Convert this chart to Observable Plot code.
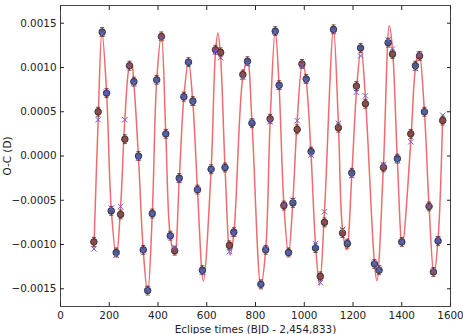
<!DOCTYPE html>
<html>
<head>
<meta charset="utf-8">
<script src="https://cdn.jsdelivr.net/npm/d3@7"></script>
<script src="https://cdn.jsdelivr.net/npm/@observablehq/plot@0.6"></script>
<style>
  html, body { margin: 0; padding: 0; background: #fff; }
  #chart svg { display: block; }
</style>
</head>
<body>
<div id="chart"></div>
<script>
// Eclipse times (days, BJD - 2,454,833) and measured O-C (days)
const eclipseTimes = [
  137, 154.5, 171, 189, 208, 228.5, 246.6, 264, 283, 301, 320, 339.5, 357.6, 376.5, 394.6,
  414, 432, 450.5, 468.5, 487, 506, 525, 543, 562, 582, 618, 636, 657, 675, 693, 711,
  748, 767, 785.5, 822, 842, 860, 881, 897, 916.5, 935.5, 953.5, 971, 990.5, 1008, 1028,
  1046, 1066, 1083, 1120, 1140, 1157, 1177, 1195, 1214, 1231, 1251, 1288, 1307, 1325,
  1344, 1362, 1382, 1400, 1437, 1456, 1473, 1493, 1512, 1530, 1549, 1568
];
const observedOC = [
  -0.00097, 0.00050, 0.00140, 0.00071, -0.00062, -0.00109, -0.00066, 0.00019, 0.00102, 0.00084,
  0.00000, -0.00106, -0.00152, -0.00065, 0.00086, 0.00135, 0.00025, -0.00090, -0.00107, -0.00025,
  0.00067, 0.00106, 0.00062, -0.00038, -0.00129, -0.00015, 0.00120, 0.00117, -0.00013, -0.00101,
  -0.00086, 0.00092, 0.00107, 0.00037, -0.00145, -0.00106, 0.00042, 0.00141, 0.00080, -0.00056,
  -0.00109, -0.00053, 0.00030, 0.00104, 0.00087, 0.00005, -0.00104, -0.00136, -0.00075, 0.00143,
  0.00032, -0.00087, -0.00099, -0.00019, 0.00079, 0.00122, 0.00059, -0.00122, -0.00129, -0.00013,
  0.00128, 0.00115, -0.00003, -0.00097, 0.00025, 0.00102, 0.00113, 0.00050, -0.00057, -0.00131,
  -0.00096, 0.00040
];
// Model O-C evaluated at each eclipse time
const modelOC = [
  -0.00105, 0.00041, 0.00138, 0.00072, -0.00059, -0.00112, -0.00057, 0.00041, 0.00101, 0.00082,
  -0.00002, -0.00107, -0.00150, -0.00066, 0.00085, 0.00133, 0.00025, -0.00091, -0.00103, -0.00027,
  0.00066, 0.00106, 0.00060, -0.00038, -0.00131, -0.00015, 0.00118, 0.00111, -0.00013, -0.00108,
  -0.00088, 0.00089, 0.00104, 0.00039, -0.00145, -0.00105, 0.00039, 0.00140, 0.00078, -0.00055,
  -0.00110, -0.00050, 0.00040, 0.00102, 0.00085, 0.00001, -0.00099, -0.00143, -0.00063, 0.00141,
  0.00037, -0.00083, -0.00098, -0.00022, 0.00072, 0.00113, 0.00068, -0.00121, -0.00128, -0.00010,
  0.00131, 0.00121, -0.00005, -0.00097, 0.00016, 0.00099, 0.00115, 0.00050, -0.00057, -0.00130,
  -0.00094, 0.00046
];
// Eclipse group of each timing (1 or 2)
const eclipseGroup = [
  1, 1, 2, 2, 2, 2, 1, 1, 1, 2, 2, 2, 2, 2, 2, 1, 2, 2, 1, 2, 2, 2, 2, 2, 2, 2, 1, 1, 2, 1,
  2, 1, 2, 2, 2, 2, 1, 2, 2, 1, 2, 2, 1, 1, 2, 2, 2, 1, 1, 2, 1, 1, 2, 2, 1, 2, 1, 2, 2, 1,
  2, 1, 2, 2, 1, 2, 1, 2, 1, 1, 2, 1
];
const ocError = 0.00005;

// Best-fit light-travel-time curve, sampled along time
const curveT = [
  137, 154.5, 170, 189, 208, 229, 246.6, 264, 283, 292, 301, 320, 339.5, 357.6, 376.5, 394.6,
  414, 432, 450.5, 468.5, 487, 506, 525, 543, 562, 586, 618, 636, 646, 657, 675, 696, 711,
  748, 767, 785.5, 822, 842, 860, 881, 897, 916.5, 935.5, 953.5, 971, 993, 1008, 1028, 1046,
  1063, 1083, 1120, 1140, 1157, 1174, 1195, 1214, 1233, 1251, 1288, 1298, 1325, 1349, 1362,
  1382, 1402, 1437, 1456, 1471, 1493, 1512, 1532, 1549, 1568
];
const curveOC = [
  -0.00105, 0.00041, 0.00141, 0.00072, -0.00059, -0.00114, -0.00057, 0.00041, 0.00101, 0.00104,
  0.00082, -0.00002, -0.00107, -0.00155, -0.00066, 0.00085, 0.00136, 0.00025, -0.00091, -0.00111,
  -0.00027, 0.00066, 0.00107, 0.00060, -0.00038, -0.00141, -0.00015, 0.00118, 0.00139, 0.00111,
  -0.00013, -0.00112, -0.00088, 0.00089, 0.00108, 0.00039, -0.00147, -0.00105, 0.00039, 0.00142,
  0.00078, -0.00055, -0.00111, -0.00050, 0.00040, 0.00107, 0.00085, 0.00001, -0.00099, -0.00146,
  -0.00063, 0.00143, 0.00037, -0.00083, -0.00106, -0.00022, 0.00072, 0.00122, 0.00066, -0.00121,
  -0.00141, -0.00010, 0.00147, 0.00121, -0.00005, -0.00101, 0.00016, 0.00099, 0.00118, 0.00050,
  -0.00057, -0.00134, -0.00094, 0.00046
];

const xTicks = [0, 200, 400, 600, 800, 1000, 1200, 1400, 1600];
const yTicks = [-0.0015, -0.0010, -0.0005, 0.0000, 0.0005, 0.0010, 0.0015];

const timings = eclipseTimes.map((t, i) => ({
  t, oc: observedOC[i], model: modelOC[i], group: eclipseGroup[i]
}));
const curve = curveT.map((t, i) => ({t, oc: curveOC[i]}));

// Short horizontal stroke used as an error-bar cap
const capSymbol = {
  draw(context, size) {
    const r = Math.sqrt(size) / 2;
    context.moveTo(-r, 0);
    context.lineTo(r, 0);
  }
};

const fmtY = d3.format(".4f");
const font = "DejaVu Sans, sans-serif";

const chart = Plot.plot({
  width: 463,
  height: 334,
  marginLeft: 60,
  marginRight: 13,
  marginTop: 5,
  marginBottom: 28,
  style: {fontFamily: font, fontSize: "10.4px", color: "#222", background: "#fff"},
  x: {domain: [0, 1600]},
  y: {domain: [-0.0017, 0.0017]},
  color: {domain: [1, 2], range: ["#8e4a4a", "#4c5b8c"]},
  marks: [
    Plot.line(curve, {x: "t", y: "oc", curve: "catmull-rom", stroke: "#e8474a", strokeWidth: 1.5, strokeOpacity: 0.8}),
    Plot.ruleX(timings, {x: "t", y1: d => d.oc - ocError, y2: d => d.oc + ocError, stroke: "#7a3232", strokeWidth: 0.9}),
    Plot.dot(timings, {x: "t", y: d => d.oc - ocError, symbol: capSymbol, r: 2.3, stroke: "#7a3232", strokeWidth: 0.9}),
    Plot.dot(timings, {x: "t", y: d => d.oc + ocError, symbol: capSymbol, r: 2.3, stroke: "#7a3232", strokeWidth: 0.9}),
    Plot.dot(timings, {x: "t", y: "oc", r: 3.3, fill: "group", stroke: "#222", strokeWidth: 0.8}),
    Plot.dot(timings, {x: "t", y: "model", symbol: "times", r: 2.6, stroke: "#6b62d6", strokeWidth: 1}),
    Plot.frame({stroke: "#444", strokeWidth: 1}),
    Plot.axisX({anchor: "bottom", ticks: xTicks, tickSize: -4, tickPadding: 9, tickFormat: d3.format("d"),
      label: "Eclipse times (BJD - 2,454,833)", labelAnchor: "center", labelOffset: 26, labelArrow: "none", fontSize: 10.4}),
    Plot.axisX({anchor: "top", ticks: xTicks, tickSize: -4, tickFormat: () => "", label: null}),
    Plot.axisY({anchor: "left", ticks: yTicks, tickSize: -4, tickPadding: 8, tickFormat: fmtY,
      label: "O-C (D)", labelAnchor: "center", labelOffset: 57, labelArrow: "none", fontSize: 10.4}),
    Plot.axisY({anchor: "right", ticks: yTicks, tickSize: -4, tickFormat: () => "", label: null})
  ]
});

document.getElementById("chart").appendChild(chart);
</script>
</body>
</html>
